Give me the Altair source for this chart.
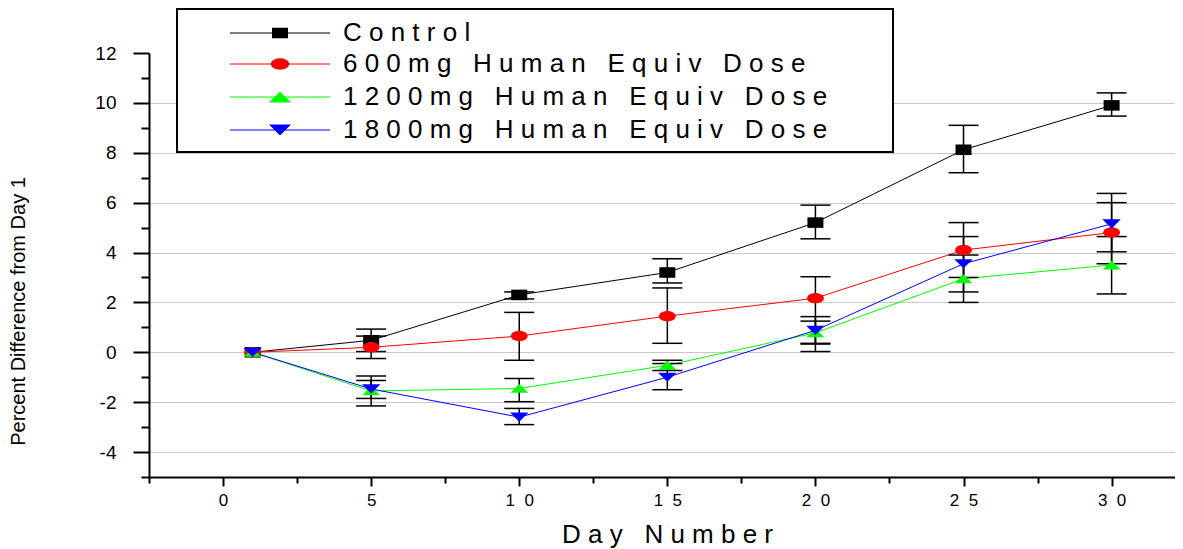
import altair as alt
import pandas as pd

FONT = "Liberation Sans"
NB = "\u00a0"

# ---------------- data ----------------
days = [1, 5, 10, 15, 20, 25, 30]
series_names = ["Control", "600mg Human Equiv Dose", "1200mg Human Equiv Dose", "1800mg Human Equiv Dose"]

control_mean = [0.0, 0.48, 2.30, 3.20, 5.20, 8.12, 9.90]
control_lo = [None, 0.03, 2.14, 2.78, 4.55, 7.20, 9.47]
control_hi = [None, 0.93, 2.42, 3.75, 5.90, 9.10, 10.40]

d600_mean = [0.0, 0.20, 0.65, 1.45, 2.17, 4.10, 4.80]
d600_lo = [None, -0.25, -0.32, 0.36, 0.03, 3.00, 3.55]
d600_hi = [None, 0.65, 1.60, 2.58, 3.03, 5.20, 6.00]

d1200_mean = [0.0, -1.55, -1.45, -0.52, 0.78, 2.95, 3.50]
d1200_lo = [None, -2.15, -1.98, -0.73, 0.36, 2.00, 2.34]
d1200_hi = [None, -0.95, -1.05, -0.32, 1.25, 3.90, 4.64]

d1800_mean = [0.0, -1.47, -2.60, -1.00, 0.88, 3.55, 5.15]
d1800_lo = [None, -1.85, -2.90, -1.50, 0.33, 2.42, 4.03]
d1800_hi = [None, -1.13, -2.25, -0.45, 1.43, 4.64, 6.37]

x_tick_values = [-2.5, 0, 2.5, 5, 7.5, 10, 12.5, 15, 17.5, 20, 22.5, 25, 27.5, 30]
y_tick_values = list(range(-5, 13))

# ---------------- styles ----------------
colors = ["#000000", "#FF0000", "#00FF00", "#0000FF"]
shapes = [
    "M-1,-0.66L1,-0.66L1,0.66L-1,0.66Z",
    "M-1,0A1,0.62,0,1,0,1,0A1,0.62,0,1,0,-1,0Z",
    "M-1,0.5L1,0.5L0,-0.5Z",
    "M-1,-0.5L1,-0.5L0,0.5Z",
]
sizes = [256, 340, 484, 484]

means = [control_mean, d600_mean, d1200_mean, d1800_mean]
los = [control_lo, d600_lo, d1200_lo, d1800_lo]
his = [control_hi, d600_hi, d1200_hi, d1800_hi]

rows = []
for name, m, lo, hi in zip(series_names, means, los, his):
    for d, v, l, h in zip(days, m, lo, hi):
        rows.append({"series": name, "day": d, "value": v, "lo": l, "hi": h})
df = pd.DataFrame(rows)


def spaced(s):
    return (NB * 3).join(NB.join(w) for w in s.split(" "))


W, H = 1026, 424
X_LABEL_SIZE = 17
Y_LABEL_SIZE = 19

x_scale = alt.Scale(domain=[-2.5, 32.14], nice=False, zero=False)
y_scale = alt.Scale(domain=[-5, 12], nice=False, zero=False)

x_axis = alt.Axis(
    values=x_tick_values,
    grid=False,
    labelExpr="datum.value % 5 == 0 ? (datum.value >= 10 ? substring('' + datum.value, 0, 1) + '" + NB + NB + "' + substring('' + datum.value, 1) : '' + datum.value) : ''",
    tickSize={"condition": {"test": "datum.value % 5 == 0", "value": 9}, "value": 6},
    labelFontSize=X_LABEL_SIZE,
    labelPadding=6,
    labelFlush=False,
    labelOverlap=False,
    title=spaced("Day Number"),
    titleFontSize=26,
    titleX=518,
    titleY=65,
    titleBaseline="alphabetic",
    titleAlign="center",
)
y_axis = alt.Axis(
    values=y_tick_values,
    grid=True,
    gridColor="#c8c8c8",
    gridWidth=1,
    gridOpacity={"condition": {"test": "datum.value % 2 == 0 && datum.value < 12", "value": 1}, "value": 0},
    labelExpr="datum.value % 2 == 0 ? (datum.value < 0 ? '-' + abs(datum.value) : '' + datum.value) : ''",
    tickSize={"condition": {"test": "datum.value % 2 == 0", "value": 16}, "value": 8},
    labelFontSize=Y_LABEL_SIZE,
    labelPadding=17,
    labelFlush=False,
    labelOverlap=False,
    title="Percent Difference from Day 1",
    titleFontSize=20,
    titleX=-121,
    titleY=258,
    titleBaseline="bottom",
    titleAlign="center",
)

X = lambda f: alt.X(f, type="quantitative", scale=x_scale, axis=x_axis)
Y = lambda f: alt.Y(f, type="quantitative", scale=y_scale, axis=y_axis)
color_enc = alt.Color("series:N", scale=alt.Scale(domain=series_names, range=colors), legend=None)

base = alt.Chart(df)

lines = base.mark_line(strokeWidth=1).encode(x=X("day"), y=Y("value"), color=color_enc)
err = base.mark_rule(color="black", strokeWidth=1.5).encode(x=X("day"), y=Y("lo"), y2="hi:Q")
cap_lo = base.mark_tick(orient="horizontal", size=30, thickness=1.5, color="black", opacity=1).encode(x=X("day"), y=Y("lo"))
cap_hi = base.mark_tick(orient="horizontal", size=30, thickness=1.5, color="black", opacity=1).encode(x=X("day"), y=Y("hi"))
points = base.mark_point(filled=True, opacity=1).encode(
    x=X("day"),
    y=Y("value"),
    color=color_enc,
    shape=alt.Shape("series:N", scale=alt.Scale(domain=series_names, range=shapes), legend=None),
    size=alt.Size("series:N", scale=alt.Scale(domain=series_names, range=sizes), legend=None),
)

# ---------------- legend (drawn by hand, boxed) ----------------
one = alt.Data(values=[{"k": 0}])
legend_layers = [
    alt.Chart(one).mark_rect(fill="white", stroke="black", strokeWidth=2).encode(
        x=alt.value(28), x2=alt.value(744), y=alt.value(-44), y2=alt.value(99)
    )
]
row_y = [-20, 11, 44, 77]
for i, name in enumerate(series_names):
    yy = row_y[i]
    legend_layers.append(
        alt.Chart(one).mark_rule(color=colors[i], strokeWidth=1).encode(
            x=alt.value(81), x2=alt.value(181), y=alt.value(yy)
        )
    )
    legend_layers.append(
        alt.Chart(one).mark_point(filled=True, opacity=1, shape=shapes[i], size=sizes[i], color=colors[i]).encode(
            x=alt.value(131), y=alt.value(yy)
        )
    )
    legend_layers.append(
        alt.Chart(one).mark_text(
            text=spaced(name), align="left", baseline="middle", font=FONT, fontSize=26, color="black"
        ).encode(x=alt.value(194), y=alt.value(yy))
    )

chart = (
    alt.layer(lines, err, cap_lo, cap_hi, points, *legend_layers)
    .properties(
        width=W,
        height=H,
        padding={"left": 141, "top": 45, "right": 0, "bottom": 72},
        autosize=alt.AutoSizeParams(type="none"),
        background="white",
    )
    .configure_view(stroke=None)
    .configure_axis(
        domainColor="black",
        domainWidth=2,
        tickColor="black",
        tickWidth=2,
        labelColor="black",
        titleColor="black",
        labelFont=FONT,
        titleFont=FONT,
        titleFontWeight="normal",
    )
    .configure_axisX(labelFontSize=X_LABEL_SIZE)
    .configure_axisY(labelFontSize=Y_LABEL_SIZE)
)

chart.save("out.html", embed_options={"renderer": "svg", "actions": False})
